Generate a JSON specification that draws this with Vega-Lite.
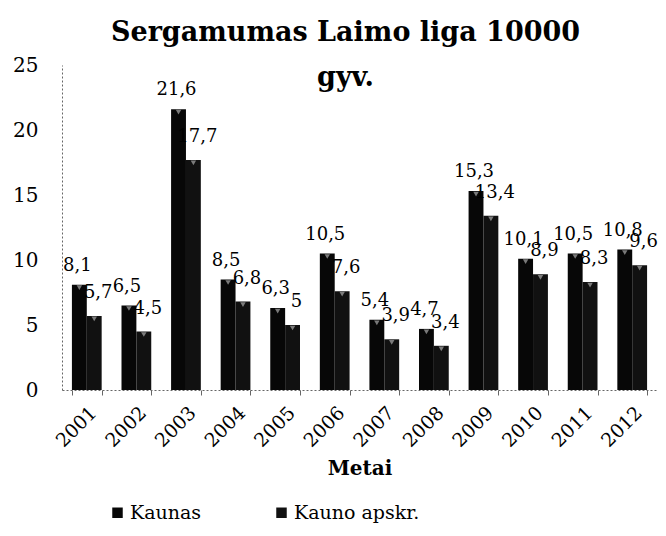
{
  "$schema": "https://vega.github.io/schema/vega-lite/v6.json",
  "autosize": "none",
  "width": 595,
  "height": 325,
  "padding": {"top": 65, "left": 62, "right": 9, "bottom": 146},
  "background": "white",
  "config": {
    "locale": {"number": {"decimal": ",", "thousands": " ", "grouping": [3], "currency": ["", " €"]}},
    "font": "DejaVu Serif",
    "view": {"stroke": null},
    "legend": {"labelFont": "DejaVu Serif"}
  },
  "title": {
    "text": ["Sergamumas Laimo liga 10000", "gyv."],
    "font": "DejaVu Serif",
    "fontSize": 27,
    "fontWeight": "bold",
    "color": "#000",
    "lineHeight": 45,
    "anchor": "middle",
    "dx": -14,
    "offset": -37
  },
  "data": {
    "values": [
      {"year": "2001", "series": "Kaunas", "value": 8.1},
      {"year": "2002", "series": "Kaunas", "value": 6.5},
      {"year": "2003", "series": "Kaunas", "value": 21.6},
      {"year": "2004", "series": "Kaunas", "value": 8.5},
      {"year": "2005", "series": "Kaunas", "value": 6.3},
      {"year": "2006", "series": "Kaunas", "value": 10.5},
      {"year": "2007", "series": "Kaunas", "value": 5.4},
      {"year": "2008", "series": "Kaunas", "value": 4.7},
      {"year": "2009", "series": "Kaunas", "value": 15.3},
      {"year": "2010", "series": "Kaunas", "value": 10.1},
      {"year": "2011", "series": "Kaunas", "value": 10.5},
      {"year": "2012", "series": "Kaunas", "value": 10.8},
      {"year": "2001", "series": "Kauno apskr.", "value": 5.7},
      {"year": "2002", "series": "Kauno apskr.", "value": 4.5},
      {"year": "2003", "series": "Kauno apskr.", "value": 17.7},
      {"year": "2004", "series": "Kauno apskr.", "value": 6.8},
      {"year": "2005", "series": "Kauno apskr.", "value": 5},
      {"year": "2006", "series": "Kauno apskr.", "value": 7.6},
      {"year": "2007", "series": "Kauno apskr.", "value": 3.9},
      {"year": "2008", "series": "Kauno apskr.", "value": 3.4},
      {"year": "2009", "series": "Kauno apskr.", "value": 13.4},
      {"year": "2010", "series": "Kauno apskr.", "value": 8.9},
      {"year": "2011", "series": "Kauno apskr.", "value": 8.3},
      {"year": "2012", "series": "Kauno apskr.", "value": 9.6}
    ]
  },
  "encoding": {
    "x": {
      "field": "year",
      "type": "nominal",
      "scale": {"paddingInner": 0.4, "paddingOuter": 0.2},
      "axis": {
        "title": "Metai",
        "titleFont": "DejaVu Serif",
        "titleFontSize": 20,
        "titleFontWeight": "bold",
        "titleColor": "#000",
        "titlePadding": 8,
        "labelAngle": -45,
        "labelFont": "DejaVu Serif",
        "labelFontSize": 19,
        "labelColor": "#000",
        "labelPadding": 8,
        "tickBand": "extent",
        "tickSize": 5,
        "tickColor": "#666",
        "domainColor": "#666",
        "domainDash": [2, 2]
      }
    },
    "xOffset": {"field": "series", "type": "nominal"},
    "y": {
      "field": "value",
      "type": "quantitative",
      "scale": {"domain": [0, 25]},
      "axis": {
        "title": null,
        "values": [0, 5, 10, 15, 20, 25],
        "grid": false,
        "ticks": false,
        "labelFont": "DejaVu Serif",
        "labelFontSize": 20,
        "labelColor": "#000",
        "labelPadding": 24,
        "domainColor": "#666",
        "domainDash": [2, 2]
      }
    }
  },
  "layer": [
    {
      "mark": {"type": "bar"},
      "encoding": {
        "color": {
          "field": "series",
          "type": "nominal",
          "scale": {"range": ["#070707", "#111111"]},
          "legend": {
            "title": null,
            "orient": "none",
            "legendX": 46,
            "legendY": 438,
            "direction": "horizontal",
            "symbolType": "square",
            "symbolSize": 110,
            "symbolOffset": 0,
            "labelFont": "DejaVu Serif",
            "labelFontSize": 19,
            "labelColor": "#000",
            "labelOffset": 3,
            "columnPadding": 70
          }
        }
      }
    },
    {
      "mark": {"type": "point", "shape": "triangle-down", "filled": true, "size": 30, "color": "#aaaaaa", "yOffset": 3},
      "encoding": {}
    },
    {
      "transform": [{"filter": "datum.series === 'Kaunas'"}],
      "mark": {"type": "text", "font": "DejaVu Serif", "fontSize": 18, "color": "#000", "baseline": "alphabetic", "dy": -14, "dx": -2},
      "encoding": {"text": {"field": "value", "type": "quantitative", "format": ".1~f"}}
    },
    {
      "transform": [{"filter": "datum.series === 'Kauno apskr.'"}],
      "mark": {"type": "text", "font": "DejaVu Serif", "fontSize": 18, "color": "#000", "baseline": "alphabetic", "dy": -18, "dx": 4},
      "encoding": {"text": {"field": "value", "type": "quantitative", "format": ".1~f"}}
    }
  ]
}
